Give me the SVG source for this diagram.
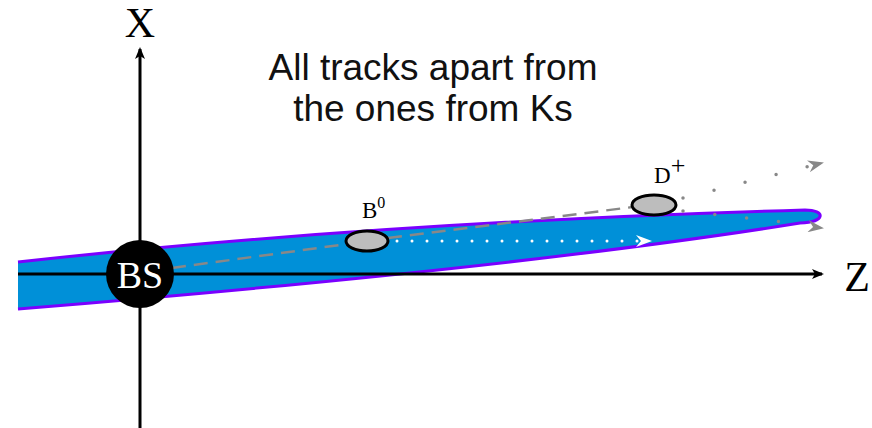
<svg xmlns="http://www.w3.org/2000/svg" width="872" height="428" viewBox="0 0 872 428">
<style>
.serif{font-family:"Liberation Serif","DejaVu Serif",serif}
.ax{stroke:#000;stroke-width:3;fill:none}
.vtx{fill:#bdbdbd;stroke:#000;stroke-width:3}
.trk{stroke:#888;stroke-width:2.5;stroke-dasharray:14 8;fill:none}
.dots{stroke:#888;stroke-width:3.5;stroke-linecap:round;stroke-dasharray:0 32;fill:none}
</style>
<defs>
<marker id="ah" markerWidth="12" markerHeight="10" refX="10" refY="5" orient="auto" markerUnits="userSpaceOnUse"><path d="M0,0 L12,5 L0,10 L3,5 Z" fill="#000"/></marker>
<marker id="gh" markerWidth="16" markerHeight="12" refX="14" refY="6" orient="auto" markerUnits="userSpaceOnUse"><path d="M0,0 L16,6 L0,12 L5,6 Z" fill="#888"/></marker>
<marker id="wh" markerWidth="16" markerHeight="12" refX="14" refY="6" orient="auto" markerUnits="userSpaceOnUse"><path d="M0,0 L16,6 L0,12 L5,6 Z" fill="#fff"/></marker>
</defs>
<rect width="872" height="428" fill="#fff"/>
<g id="band">
<path d="M18,262 Q380,222 805,210 C826,210 826,222 800,223 Q520,268 18,309 Z" fill="#0090d8"/>
<path d="M18,262 Q380,222 805,210 C826,210 826,222 800,223 Q520,268 18,309" fill="none" stroke="#7a00ff" stroke-width="3"/>
</g>
<g id="axes">
<line class="ax" x1="140" y1="428" x2="140" y2="49" marker-end="url(#ah)"/>
<line class="ax" x1="18" y1="274" x2="822" y2="274" marker-end="url(#ah)"/>
<text class="serif" x="140" y="37" font-size="42" text-anchor="middle">X</text>
<text class="serif" x="857" y="291" font-size="42" text-anchor="middle">Z</text>
</g>
<g id="connectors">
<line class="trk" x1="172" y1="268" x2="347" y2="244"/>
<line class="trk" x1="388" y1="238" x2="633" y2="207"/>
<line x1="397" y1="241" x2="650" y2="241" stroke="#fff" stroke-width="3" stroke-linecap="round" stroke-dasharray="0 15" marker-end="url(#wh)"/>
<line class="dots" x1="683" y1="198" x2="810" y2="166"/>
<path d="M806,167 L822,163" stroke="none" fill="none" marker-end="url(#gh)"/>
<line class="dots" x1="683" y1="211" x2="810" y2="225"/>
<path d="M806,226 L822,228" stroke="none" fill="none" marker-end="url(#gh)"/>
</g>
<g id="BS">
<circle cx="140" cy="274" r="34" fill="#000"/>
<text class="serif" x="140" y="288" font-size="38" fill="#fff" text-anchor="middle">BS</text>
</g>
<g id="B0">
<ellipse class="vtx" cx="367" cy="241" rx="21" ry="10"/>
<text class="serif" x="362" y="218" font-size="23">B<tspan font-size="16" dy="-10">0</tspan></text>
</g>
<g id="Dplus">
<ellipse class="vtx" cx="654" cy="205" rx="22" ry="10"/>
<text class="serif" x="654" y="183" font-size="23">D<tspan font-size="26" dy="-9">+</tspan></text>
</g>
<g id="title">
<text x="433" y="80" font-family="Liberation Sans, Arial, sans-serif" font-size="37" fill="#111" text-anchor="middle">All tracks apart from</text>
<text x="433" y="121" font-family="Liberation Sans, Arial, sans-serif" font-size="37" fill="#111" text-anchor="middle">the ones from Ks</text>
</g>
</svg>
